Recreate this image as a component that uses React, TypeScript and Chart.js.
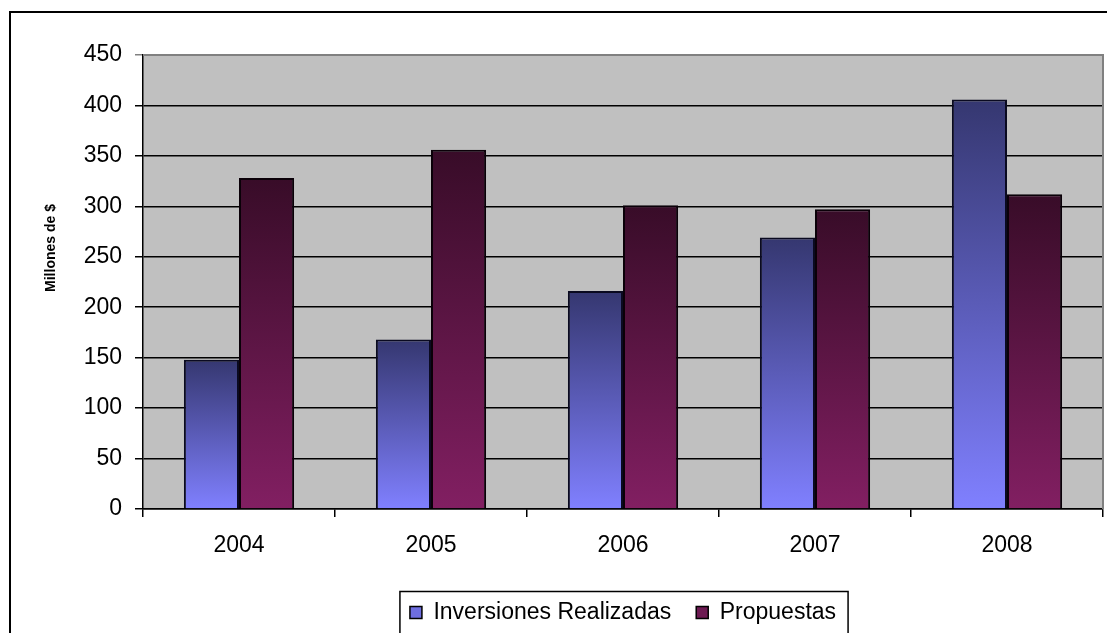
import React, { useEffect, useRef } from 'react';
import { Chart, registerables } from 'chart.js';

Chart.register(...registerables);

const categories = ['2004', '2005', '2006', '2007', '2008'];
const inversionesRealizadas = [148, 168, 216, 269, 406];
const propuestas = [328, 356, 301, 297, 312];
const seriesLabels = ['Inversiones Realizadas', 'Propuestas'];
const yAxisTitle = 'Millones de $';
const yMin = 0;
const yMax = 450;
const yStep = 50;

const blueTop = '#353770';
const blueBottom = '#8080ff';
const purpleTop = '#380c28';
const purpleBottom = '#821f62';
const legendFill = ['#6e6ee0', '#6d1a52'];

const FONT = "'Liberation Sans', Arial, Helvetica, sans-serif";

const makeGradient = (top: string, bottom: string) => (ctx: any) => {
  const chart = ctx.chart;
  const y = chart.scales && chart.scales.y;
  if (!chart.chartArea || !y || ctx.type !== 'data') return bottom;
  const yTop = y.getPixelForValue(ctx.raw);
  const yBot = y.getPixelForValue(0);
  if (!isFinite(yTop) || !isFinite(yBot) || yTop === yBot) return bottom;
  const g = chart.ctx.createLinearGradient(0, yTop, 0, yBot);
  g.addColorStop(0, top);
  g.addColorStop(1, bottom);
  return g;
};

const decorPlugin = {
  id: 'decor',
  beforeDraw(chart: any) {
    const { ctx, chartArea } = chart;
    ctx.save();
    ctx.fillStyle = '#ffffff';
    ctx.fillRect(0, 0, chart.width, chart.height);
    ctx.fillStyle = '#c0c0c0';
    ctx.fillRect(chartArea.left, chartArea.top, chartArea.right - chartArea.left, chartArea.bottom - chartArea.top);
    ctx.restore();
  },
  afterDraw(chart: any) {
    const { ctx, chartArea } = chart;
    ctx.save();
    // plot area gray border (top, right)
    ctx.strokeStyle = '#808080';
    ctx.lineWidth = 2;
    ctx.beginPath();
    ctx.moveTo(chartArea.left, chartArea.top);
    ctx.lineTo(chartArea.right, chartArea.top);
    ctx.lineTo(chartArea.right, chartArea.bottom);
    ctx.stroke();
    // outer chart border
    ctx.strokeStyle = '#000000';
    ctx.lineWidth = 2;
    ctx.strokeRect(10, 12, 1300, 800);
    // legend frame
    const hb = chart.legend && chart.legend.legendHitBoxes;
    if (hb && hb.length) {
      const first = hb[0];
      const last = hb[hb.length - 1];
      const cy = first.top + first.height / 2;
      const left = first.left - 10;
      const right = last.left + last.width + 12;
      ctx.lineWidth = 1.5;
      ctx.strokeRect(left, cy - 21, right - left, 43);
    }
    // y axis title
    ctx.fillStyle = '#000000';
    ctx.font = `bold 14px ${FONT}`;
    ctx.textAlign = 'center';
    ctx.textBaseline = 'middle';
    ctx.translate(51, 248);
    ctx.rotate(-Math.PI / 2);
    ctx.fillText(yAxisTitle, 0, 0);
    ctx.restore();
  },
};

export default function App() {
  const canvasRef = useRef<HTMLCanvasElement | null>(null);

  useEffect(() => {
    if (!canvasRef.current) return;
    Chart.defaults.font.family = FONT;
    Chart.defaults.color = '#000000';
    const chart = new Chart(canvasRef.current, {
      type: 'bar',
      data: {
        labels: categories,
        datasets: [
          {
            label: seriesLabels[0],
            data: inversionesRealizadas,
            backgroundColor: makeGradient(blueTop, blueBottom),
            borderColor: '#0a0a20',
            borderWidth: 2,
            categoryPercentage: 0.574,
            barPercentage: 1,
          },
          {
            label: seriesLabels[1],
            data: propuestas,
            backgroundColor: makeGradient(purpleTop, purpleBottom),
            borderColor: '#0a0008',
            borderWidth: 2,
            categoryPercentage: 0.574,
            barPercentage: 1,
          },
        ],
      },
      options: {
        responsive: false,
        devicePixelRatio: 1,
        animation: false,
        layout: { padding: { left: 0, top: 55, right: 4, bottom: -1 } },
        plugins: {
          title: { display: false },
          tooltip: { enabled: false },
          legend: {
            display: true,
            position: 'bottom',
            fullSize: false,
            labels: {
              font: { size: 23 },
              color: '#000000',
              boxWidth: 12,
              boxHeight: 12,
              padding: 25,
              generateLabels: (c: any) =>
                c.data.datasets.map((ds: any, i: number) => ({
                  text: ds.label,
                  fillStyle: legendFill[i],
                  strokeStyle: '#000000',
                  lineWidth: 1.5,
                  hidden: false,
                  datasetIndex: i,
                })),
            },
          },
        },
        scales: {
          x: {
            offset: true,
            grid: {
              offset: true,
              drawOnChartArea: false,
              drawTicks: true,
              tickLength: 8,
              color: '#000000',
              lineWidth: 1.5,
            },
            border: { display: true, color: '#000000', width: 1.5 },
            ticks: { font: { size: 23 }, color: '#000000', padding: 15, maxRotation: 0 },
            afterFit: (scale: any) => {
              scale.height = 67;
            },
          },
          y: {
            min: yMin,
            max: yMax,
            ticks: { stepSize: yStep, font: { size: 23 }, color: '#000000', padding: 13 },
            grid: {
              color: (ctx: any) => (ctx.tick && ctx.tick.value === yMax ? '#808080' : '#000000'),
              lineWidth: 1.5,
              tickLength: 8,
              drawTicks: true,
            },
            border: { display: true, color: '#000000', width: 1.5 },
            afterFit: (scale: any) => {
              scale.width = 143;
            },
          },
        },
      },
      plugins: [decorPlugin],
    });
    return () => chart.destroy();
  }, []);

  return (
    <div style={{ position: 'fixed', left: 0, top: 0, width: 1107, height: 633, background: '#fff' }}>
      <canvas ref={canvasRef} width={1107} height={633} style={{ display: 'block', width: 1107, height: 633 }} />
    </div>
  );
}
